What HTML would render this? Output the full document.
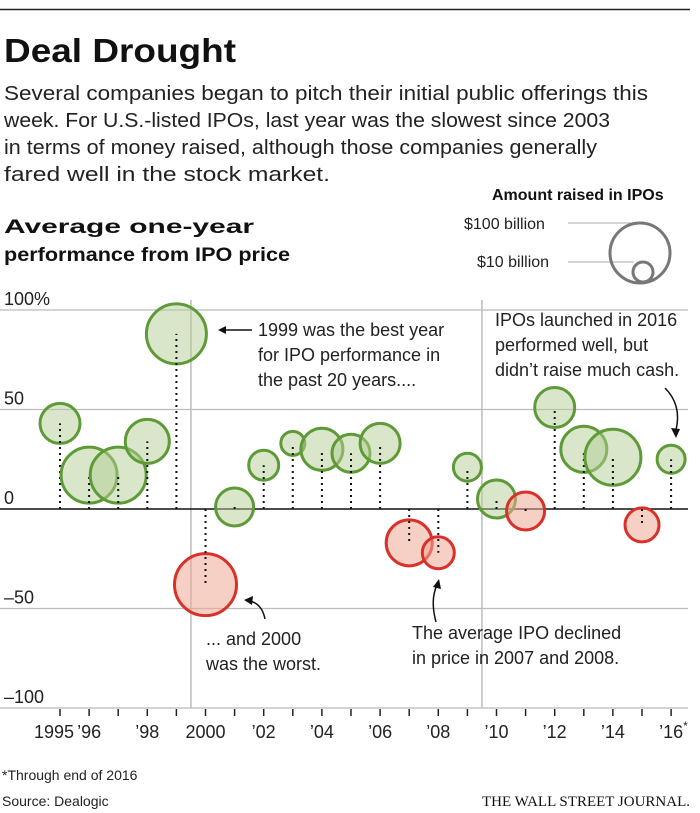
<!DOCTYPE html>
<html><head><meta charset="utf-8"><style>
body{margin:0;background:#fff;width:700px;height:813px;overflow:hidden;font-family:"Liberation Sans",sans-serif;}
</style></head><body>
<svg width="700" height="813" style="position:absolute;left:0;top:0">
<line x1="0" y1="9.5" x2="690" y2="9.5" stroke="#222" stroke-width="1.5"/>
<text x="4" y="62" font-size="33" font-weight="bold" fill="#111" textLength="232" lengthAdjust="spacingAndGlyphs">Deal Drought</text>
<g font-size="20" fill="#222">
<text x="4" y="100" textLength="644" lengthAdjust="spacingAndGlyphs">Several companies began to pitch their initial public offerings this</text>
<text x="4" y="127" textLength="606" lengthAdjust="spacingAndGlyphs">week. For U.S.-listed IPOs, last year was the slowest since 2003</text>
<text x="4" y="154" textLength="593" lengthAdjust="spacingAndGlyphs">in terms of money raised, although those companies generally</text>
<text x="4" y="181" textLength="326" lengthAdjust="spacingAndGlyphs">fared well in the stock market.</text>
</g>
<g font-size="19" font-weight="bold" fill="#111">
<text x="4" y="233" textLength="250" lengthAdjust="spacingAndGlyphs">Average one-year</text>
<text x="4" y="261" textLength="286" lengthAdjust="spacingAndGlyphs">performance from IPO price</text>
</g>
<g>
<text x="492" y="200" font-size="16" font-weight="bold" fill="#111">Amount raised in IPOs</text>
<text x="464" y="229" font-size="16" fill="#222">$100 billion</text>
<text x="477" y="267" font-size="16" fill="#222">$10 billion</text>
<line x1="568" y1="223" x2="640" y2="223" stroke="#aaa"/>
<line x1="568" y1="262" x2="634" y2="262" stroke="#aaa"/>
<circle cx="640" cy="253" r="30" fill="none" stroke="#777" stroke-width="3"/>
<circle cx="643" cy="272" r="10" fill="none" stroke="#777" stroke-width="3"/>
</g>
<g id="grid"></g>
<g id="marks"></g>
<g font-size="18" fill="#222">
<text x="258" y="336">1999 was the best year</text>
<text x="258" y="361">for IPO performance in</text>
<text x="258" y="386">the past 20 years....</text>
<line x1="252" y1="330" x2="224" y2="330" stroke="#111" stroke-width="1.5"/>
<polygon points="218,330 226,326 226,334" fill="#111"/>
<text x="495" y="326">IPOs launched in 2016</text>
<text x="495" y="351">performed well, but</text>
<text x="495" y="376">didn’t raise much cash.</text>
<path d="M665,388 Q682,405 676,430" fill="none" stroke="#111" stroke-width="1.5"/>
<polygon points="676,438 671,428 680,429" fill="#111"/>
<text x="206" y="645">... and 2000</text>
<text x="206" y="670">was the worst.</text>
<path d="M265,619 Q262,604 250,601" fill="none" stroke="#111" stroke-width="1.5"/>
<polygon points="244,600 253,596 252,605" fill="#111"/>
<text x="412" y="639">The average IPO declined</text>
<text x="412" y="664">in price in 2007 and 2008.</text>
<path d="M436,622 Q430,600 437,585" fill="none" stroke="#111" stroke-width="1.5"/>
<polygon points="439,579 441,589 433,587" fill="#111"/>
</g>
<text x="2" y="780" font-size="14" fill="#222">*Through end of 2016</text>
<text x="2" y="806" font-size="14" fill="#222">Source: Dealogic</text>
<text x="690" y="806" font-size="15" text-anchor="end" font-family="Liberation Serif, serif" fill="#111">THE WALL STREET JOURNAL.</text>
</svg>
<script>
const years=[1995,1996,1997,1998,1999,2000,2001,2002,2003,2004,2005,2006,2007,2008,2009,2010,2011,2012,2013,2014,2015,2016];
const perf=[43,17,17,34,88,-38,1,22,33,30,28,33,-17,-22,21,5,-1,51,30,26,-8,25];
const radii=[20,28,28,22,30,31,19,15,12,21,19,20,23,16,14,19,19,20,23,28,17,14];
const yTicks=[100,50,0,-50,-100];
const yTickLabels=["100%","50","0","-50","-100"];
const xLabelYears=[1995,1996,1998,2000,2002,2004,2006,2008,2010,2012,2014,2016];
const xLabels=["1995","’96","’98","2000","’02","’04","’06","’08","’10","’12","’14","’16"];
const NS="http://www.w3.org/2000/svg";
const X=y=>60+(y-1995)*29.1;
const Y=v=>509-v*1.99;
function mk(t,a,p){const e=document.createElementNS(NS,t);for(const k in a)e.setAttribute(k,a[k]);p.appendChild(e);return e;}
const grid=document.getElementById('grid');
[1999.5,2009.5].forEach(y=>{const l=mk('line',{x1:X(y),y1:300,x2:X(y),y2:Y(-100),stroke:'#bbb','stroke-width':1.5},grid);

});
yTicks.forEach((v,i)=>{const l=mk('line',{x1:0,y1:Y(v),x2:688,y2:Y(v),stroke:v===0?'#111':'#bbb','stroke-width':v===0?1.5:1.3},grid);


const t=mk('text',{x:4,y:Y(v)-5,'font-size':18,fill:'#222'},grid);t.textContent=yTickLabels[i].replace('-','–');

});
years.forEach(y=>{const l=mk('line',{x1:X(y),y1:Y(-100)+1,x2:X(y),y2:Y(-100)+8,stroke:'#222','stroke-width':1.5},grid);

});
xLabelYears.forEach((y,i)=>{const t=mk('text',{x:X(y)+(i===0?-6:0),y:738,'font-size':18,fill:'#222','text-anchor':'middle'},grid);t.textContent=xLabels[i];

});
const st=mk('text',{x:X(2016)+12,y:730,'font-size':12,fill:'#222'},grid);st.textContent='*';


const marks=document.getElementById('marks');
years.forEach((y,i)=>{const v=perf[i],pos=v>=0;
const c=mk('circle',{cx:X(y),cy:Y(v),r:radii[i],fill:pos?'rgba(180,205,150,0.5)':'rgba(240,170,150,0.55)',stroke:pos?'#5e9a37':'#d9302a','stroke-width':3},marks);


const l=mk('line',{x1:X(y),y1:Y(0),x2:X(y),y2:Y(v),stroke:'#111','stroke-width':2,'stroke-dasharray':'2,4'},marks);

});
</script>
</body></html>
